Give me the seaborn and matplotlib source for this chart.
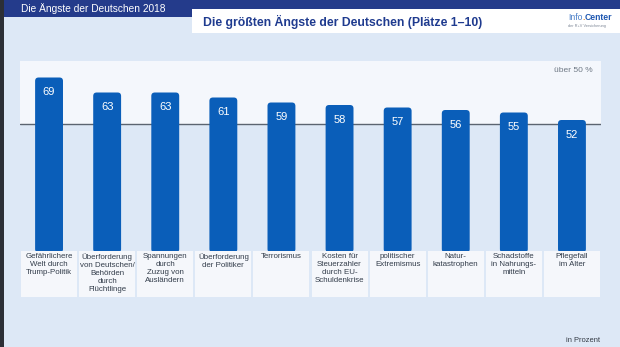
import matplotlib
matplotlib.use("Agg")
import matplotlib.pyplot as plt
import seaborn as sns
import pandas as pd
from matplotlib.patches import Rectangle, FancyBboxPatch

header = "Die Ängste der Deutschen 2018"
title = "Die größten Ängste der Deutschen (Plätze 1–10)"
categories = [
    "Gefährlichere\nWelt durch\nTrump-Politik",
    "Überforderung\nvon Deutschen/\nBehörden\ndurch\nFlüchtlinge",
    "Spannungen\ndurch\nZuzug von\nAusländern",
    "Überforderung\nder Politiker",
    "Terrorismus",
    "Kosten für\nSteuerzahler\ndurch EU-\nSchuldenkrise",
    "politischer\nExtremismus",
    "Natur-\nkatastrophen",
    "Schadstoffe\nin Nahrungs-\nmitteln",
    "Pflegefall\nim Alter",
]
values = [69, 63, 63, 61, 59, 58, 57, 56, 55, 52]
threshold = 50
threshold_label = "über 50 %"
unit_label = "in Prozent"

sns.set_theme(style="white")
plt.rcParams["font.family"] = ["Liberation Sans", "DejaVu Sans"]

W, H = 620, 347
fig = plt.figure(figsize=(W / 100, H / 100), dpi=100)
BG = "#dde8f6"
fig.patch.set_facecolor(BG)

def fx(x):
    return x / W

def fy(y):
    return 1 - y / H

def rect_px(x0, y0, x1, y1, color, z=0):
    fig.add_artist(Rectangle((fx(x0), fy(y1)), fx(x1 - x0), (y1 - y0) / H,
                             transform=fig.transFigure, facecolor=color,
                             edgecolor="none", zorder=z))

# frame decorations
rect_px(0, 0, 4, H, "#2c2f36", z=1)
rect_px(4, 0, W, 17, "#243b8b", z=1)
rect_px(192, 9, W, 33, "white", z=2)
fig.text(fx(21), fy(8.5), header, color="white", fontsize=7.3,
         va="center", ha="left", zorder=3)
fig.text(fx(203), fy(21.5), title, color="#1f3b8f", fontsize=8.85,
         fontweight="bold", va="center", ha="left", zorder=3)
# logo
t1 = fig.text(fx(568), fy(17), "Info", color="#4a7fc8", fontsize=6.2,
              va="center", ha="left", zorder=3)
fig.canvas.draw()
r = fig.canvas.get_renderer()
bb = t1.get_window_extent(r)
t2 = fig.text(bb.x1 / W, fy(17), ".", color="#f08a1c", fontsize=6.2,
              fontweight="bold", va="center", ha="left", zorder=3)
bb2 = t2.get_window_extent(r)
fig.text(bb2.x1 / W, fy(17), "Center", color="#1d56b0", fontsize=6.2,
         fontweight="bold", va="center", ha="left", zorder=3)
fig.text(fx(568), fy(25.5), "der R+V Versicherung", color="#7d8796",
         fontsize=2.8, va="center", ha="left", zorder=3)

# axes
px_top, px_bot = 61, 297
zero_px, k = 250.0, 2.5
ymax = (zero_px - px_top) / k
ymin = (zero_px - px_bot) / k
ax = fig.add_axes([fx(20), fy(px_bot), fx(581), (px_bot - px_top) / H])
ax.set_facecolor("none")

df = pd.DataFrame({"cat": categories, "val": values})
sns.barplot(data=df, x="cat", y="val", color="#0a5eb9", saturation=1,
            width=0.48, ax=ax, zorder=3)
ax.set_xlim(-0.5, len(values) - 0.5)
ax.set_ylim(ymin, ymax)

# white panel above threshold
ax.axhspan(threshold + 0.4, ymax, xmin=0, xmax=1, facecolor="#f4f7fc",
           edgecolor="none", zorder=0)
ax.axhline(threshold + 0.4, color="#5b6470", lw=1.0, zorder=2)
ax.text(len(values) - 0.64, ymax - 3.7, threshold_label, ha="right",
        va="center", fontsize=6, color="#6f7985")

# rounded bars
xpx = 58.1
mut = xpx / k
for p, v in zip(ax.patches, values):
    x0, w, h = p.get_x(), p.get_width(), p.get_height()
    p.set_visible(False)
    fb = FancyBboxPatch((x0, -1.0), w, h + 1.0,
                        boxstyle="round,pad=0,rounding_size=0.06",
                        mutation_aspect=mut, facecolor="#0a5eb9",
                        edgecolor="none", zorder=3)
    ax.add_patch(fb)
    ax.text(x0 + w / 2, v - 6, str(v), ha="center", va="center",
            color="white", fontsize=8, zorder=4)

# category label boxes
for i, c in enumerate(categories):
    ax.add_patch(Rectangle((i - 0.482, ymin + 0.1), 0.964, -0.2 - ymin - 0.1,
                           facecolor="#f5f7fb", edgecolor="none", zorder=5))
    ax.text(i, -1.4, c, ha="center", va="top", fontsize=5.7,
            color="#333d4b", linespacing=1.17, zorder=6)

ax.set_xticks([])
ax.set_yticks([])
ax.set_xlabel("")
ax.set_ylabel("")
for s in ax.spines.values():
    s.set_visible(False)

fig.text(fx(600), fy(341), unit_label, ha="right", va="center",
         fontsize=5.4, color="#333a44")

fig.savefig("out.png", dpi=100, facecolor=fig.get_facecolor())
